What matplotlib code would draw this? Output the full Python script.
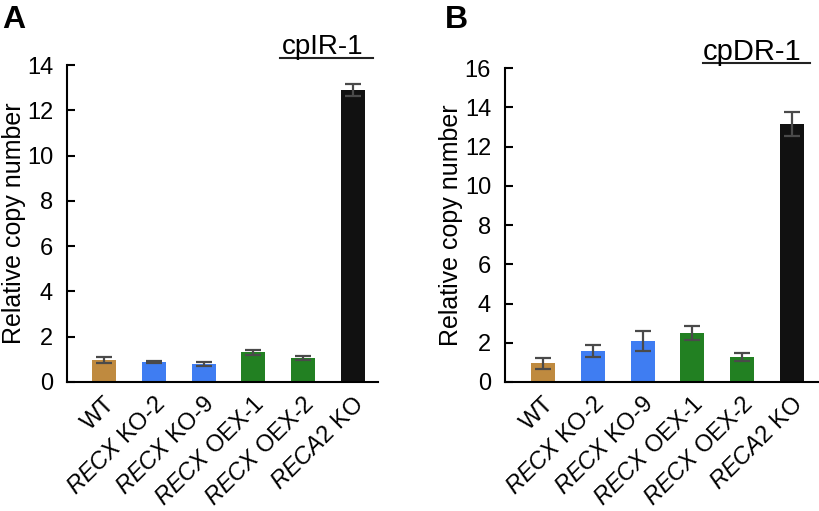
import matplotlib
matplotlib.use("Agg")
import matplotlib.pyplot as plt
from matplotlib.lines import Line2D
import numpy as np

plt.rcParams['font.family'] = ['Liberation Sans', 'DejaVu Sans']
plt.rcParams['mathtext.fontset'] = 'custom'
plt.rcParams['mathtext.rm'] = 'Liberation Sans'
plt.rcParams['mathtext.it'] = 'Liberation Sans:italic'

categories = ['WT', r'$\mathit{RECX}$ KO-2', r'$\mathit{RECX}$ KO-9',
              r'$\mathit{RECX}$ OEX-1', r'$\mathit{RECX}$ OEX-2', r'$\mathit{RECA2}$ KO']
colors = ['#BF8A3F', '#3F7DF2', '#3F7DF2', '#228022', '#228022', '#111111']

ir_values = [0.97, 0.88, 0.80, 1.31, 1.05, 12.88]
ir_errors = [0.13, 0.04, 0.09, 0.10, 0.08, 0.27]
dr_values = [0.95, 1.58, 2.09, 2.48, 1.29, 13.16]
dr_errors = [0.27, 0.31, 0.52, 0.35, 0.21, 0.60]

ir_ticks = [0, 2, 4, 6, 8, 10, 12, 14]
dr_ticks = [0, 2, 4, 6, 8, 10, 12, 14, 16]

W, H = 819, 511
fig = plt.figure(figsize=(W / 100, H / 100), dpi=100)

def px(x0, y0, x1, y1):
    return [x0 / W, 1 - y1 / H, (x1 - x0) / W, (y1 - y0) / H]

axA = fig.add_axes(px(67, 65, 378, 382))
axB = fig.add_axes(px(505, 68, 818, 382))

def draw(ax, vals, errs, ticks, xl):
    x = np.arange(len(categories))
    ax.bar(x, vals, width=0.48, color=colors, zorder=2)
    ax.errorbar(x, vals, yerr=errs, fmt='none', ecolor='#4a4a4a',
                elinewidth=1.6, capsize=6, capthick=1.6, zorder=3)
    ax.set_ylim(0, ticks[-1])
    ax.set_yticks(ticks)
    ax.set_xlim(*xl)
    ax.set_xticks(x)
    ax.set_xticklabels(categories, rotation=45, ha='right', rotation_mode='anchor',
                       fontsize=17)
    ax.tick_params(axis='x', length=0, pad=8)
    ax.tick_params(axis='y', direction='in', length=6, width=1.5, labelsize=17, pad=10)
    for s in ['top', 'right']:
        ax.spines[s].set_visible(False)
    for s in ['left', 'bottom']:
        ax.spines[s].set_linewidth(1.5)
    ax.set_ylabel('Relative copy number', fontsize=18)
    ax.yaxis.set_label_coords(-0.133, 0.5)

draw(axA, ir_values, ir_errors, ir_ticks, (-0.74, 5.5))
draw(axB, dr_values, dr_errors, dr_ticks, (-0.76, 5.52))

fig.text(2 / W, 1 - 28 / H, 'A', fontsize=23, fontweight='bold')
fig.text(445 / W, 1 - 28 / H, 'B', fontsize=23, fontweight='bold')

fig.text(282 / W, 1 - 54 / H, 'cpIR-1', fontsize=20)
fig.add_artist(Line2D([280 / W, 373 / W], [1 - 58.5 / H, 1 - 58.5 / H], color='#222222', lw=1.5))
fig.text(703 / W, 1 - 60 / H, 'cpDR-1', fontsize=21)
fig.add_artist(Line2D([703 / W, 810 / W], [1 - 63 / H, 1 - 63 / H], color='#222222', lw=1.5))

fig.savefig('out.png', dpi=100)
